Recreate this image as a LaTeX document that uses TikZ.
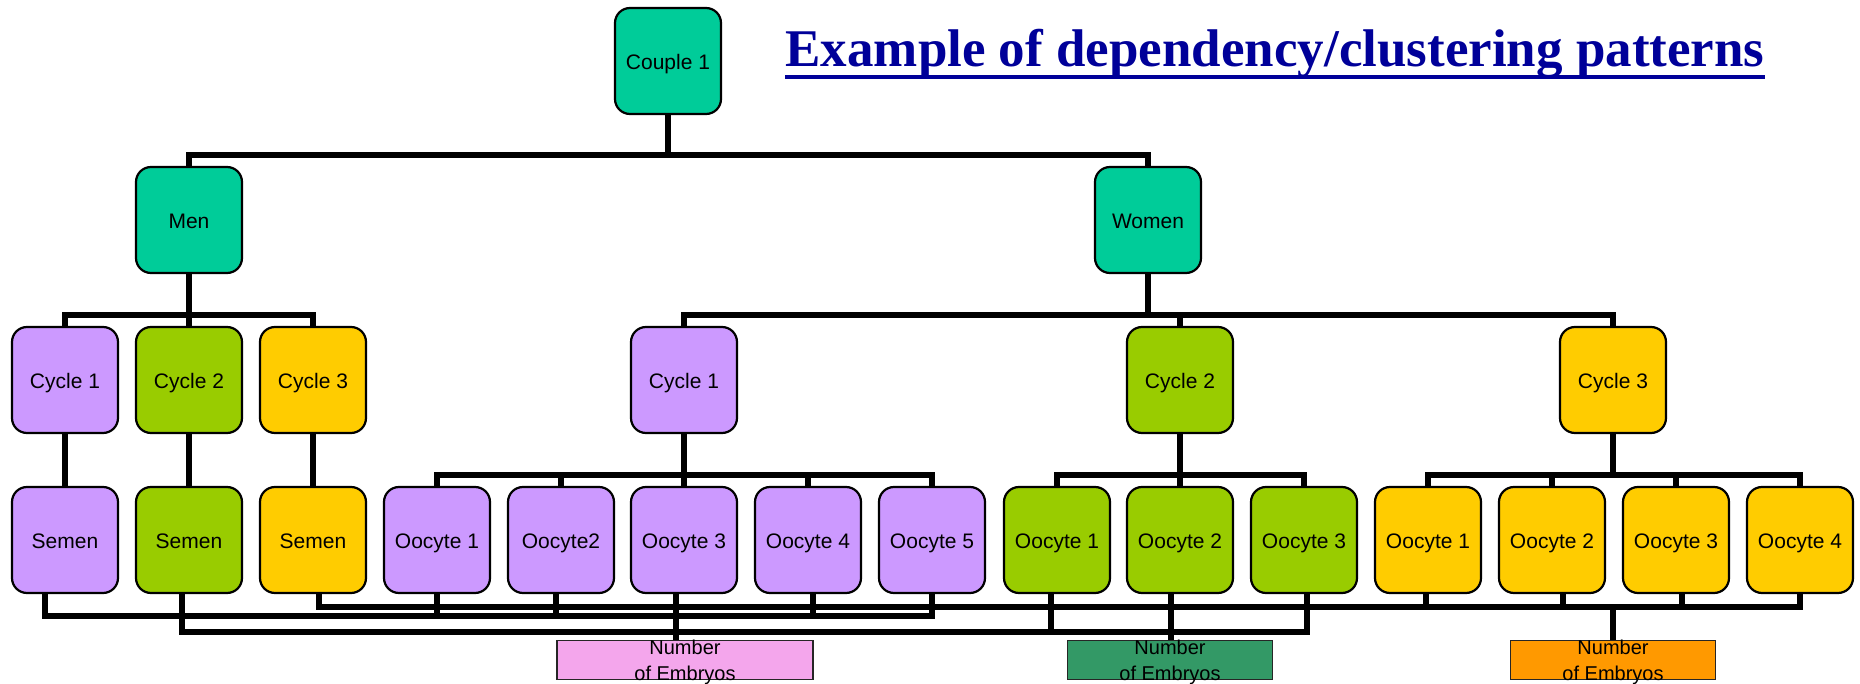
\documentclass[tikz,border=0pt]{standalone}
\usepackage{fontspec}
\setmainfont{Liberation Sans}
\newfontfamily\titlefont{Liberation Serif}
\usepackage{xcolor}
\usepackage{tikz}
\usetikzlibrary{calc}

\definecolor{couplegreen}{HTML}{00CC99}
\definecolor{cyclepurple}{HTML}{CC99FF}
\definecolor{cyclegreen}{HTML}{99CC00}
\definecolor{cycleyellow}{HTML}{FFCC00}
\definecolor{embpink}{HTML}{F4A6EC}
\definecolor{embgreen}{HTML}{339966}
\definecolor{emborange}{HTML}{FF9900}
\definecolor{titleblue}{HTML}{000099}

\newcommand{\embtext}{\raisebox{-3.75pt}[0pt][0pt]{\begin{tabular}{@{}c@{}}Number\\of Embryos\end{tabular}}}

\begin{document}
\begin{tikzpicture}[x=0.5pt,y=-0.5pt,
  box/.style={draw,line width=1.1pt,rounded corners=7.5pt,minimum width=53pt,minimum height=53pt,inner sep=0pt,text height=8.2pt,text depth=0pt,font=\fontsize{10.5}{12.5}\selectfont},
  numbox/.style={draw=black!85,line width=0.8pt,inner sep=0pt,minimum height=19.5pt,font=\fontsize{10}{12.5}\selectfont},
  bus/.style={line width=2.9pt}]
\useasboundingbox (0,0) rectangle (1860,684);

% Levels of the bus lines
\coordinate (lvA) at (0,155);
\coordinate (lvB) at (0,315);
\coordinate (lvC) at (0,475);
\coordinate (busY) at (0,607);
\coordinate (busP) at (0,616);
\coordinate (busG) at (0,632);

% Title
\node[anchor=base,inner sep=0pt,text=titleblue,font=\titlefont\bfseries\fontsize{26.5}{30}\selectfont] (title) at (1275,67) {Example of dependency/clustering patterns};
\draw[line width=2pt,titleblue] ($(title.base west)+(0,10)$) -- ($(title.base east)+(0,10)$);

% Couple, men and women
\node[box,fill=couplegreen] (couple) at (668,61) {Couple 1};
\node[box,fill=couplegreen] (men) at (189,220) {Men};
\node[box,fill=couplegreen] (women) at (1148,220) {Women};

% Cycles
\node[box,fill=cyclepurple] (mc1) at (65,380) {Cycle 1};
\node[box,fill=cyclegreen] (mc2) at (189,380) {Cycle 2};
\node[box,fill=cycleyellow] (mc3) at (313,380) {Cycle 3};
\node[box,fill=cyclepurple] (wc1) at (684,380) {Cycle 1};
\node[box,fill=cyclegreen] (wc2) at (1180,380) {Cycle 2};
\node[box,fill=cycleyellow] (wc3) at (1613,380) {Cycle 3};

% Semen and oocytes
\node[box,fill=cyclepurple] (ms1) at (65,540) {Semen};
\node[box,fill=cyclegreen] (ms2) at (189,540) {Semen};
\node[box,fill=cycleyellow] (ms3) at (313,540) {Semen};
\node[box,fill=cyclepurple] (p1) at (437,540) {Oocyte 1};
\node[box,fill=cyclepurple] (p2) at (561,540) {Oocyte2};
\node[box,fill=cyclepurple] (p3) at (684,540) {Oocyte 3};
\node[box,fill=cyclepurple] (p4) at (808,540) {Oocyte 4};
\node[box,fill=cyclepurple] (p5) at (932,540) {Oocyte 5};
\node[box,fill=cyclegreen] (g1) at (1057,540) {Oocyte 1};
\node[box,fill=cyclegreen] (g2) at (1180,540) {Oocyte 2};
\node[box,fill=cyclegreen] (g3) at (1304,540) {Oocyte 3};
\node[box,fill=cycleyellow] (y1) at (1428,540) {Oocyte 1};
\node[box,fill=cycleyellow] (y2) at (1552,540) {Oocyte 2};
\node[box,fill=cycleyellow] (y3) at (1676,540) {Oocyte 3};
\node[box,fill=cycleyellow] (y4) at (1800,540) {Oocyte 4};

% Number of embryos
\node[numbox,fill=embpink,minimum width=128pt] (np) at (685,660) {\embtext};
\node[numbox,fill=embgreen,minimum width=102.5pt] (ng) at (1170,660) {\embtext};
\node[numbox,fill=emborange,minimum width=102.5pt] (ny) at (1613,660) {\embtext};

% Tree from couple down to cycles
\draw[bus] (couple.south) -- (couple |- lvA);
\draw[bus] (men.north) |- (women.north |- lvA) -- (women.north);
\draw[bus] (men.south) -- (mc2.north);
\draw[bus] (mc1.north) |- (mc3.north |- lvB) -- (mc3.north);
\draw[bus] (women.south) -- (women |- lvB);
\draw[bus] (wc1.north) |- (wc3.north |- lvB) -- (wc3.north);
\draw[bus] (wc2.north) -- (wc2 |- lvB);

% Cycles down to samples
\draw[bus] (mc1.south) -- (ms1.north);
\draw[bus] (mc2.south) -- (ms2.north);
\draw[bus] (mc3.south) -- (ms3.north);
\draw[bus] (wc1.south) -- (p3.north);
\draw[bus] (p1.north) |- (p5.north |- lvC) -- (p5.north);
\draw[bus] (p2.north) -- (p2 |- lvC);
\draw[bus] (p4.north) -- (p4 |- lvC);
\draw[bus] (wc2.south) -- (g2.north);
\draw[bus] (g1.north) |- (g3.north |- lvC) -- (g3.north);
\draw[bus] (wc3.south) -- (wc3 |- lvC);
\draw[bus] (y1.north) |- (y4.north |- lvC) -- (y4.north);
\draw[bus] (y2.north) -- (y2 |- lvC);
\draw[bus] (y3.north) -- (y3 |- lvC);

% Yellow cluster
\draw[bus] ($(ms3.south)+(6,0)$) |- (y4.south |- busY) -- (y4.south);
\draw[bus] ($(y1.south)+(-2,0)$) -- ($(y1.south |- busY)+(-2,0)$);
\draw[bus] ($(y2.south)+(11,0)$) -- ($(y2.south |- busY)+(11,0)$);
\draw[bus] ($(y3.south)+(6,0)$) -- ($(y3.south |- busY)+(6,0)$);
\draw[bus] (ny.north) -- (ny.north |- busY);

% Purple cluster
\draw[bus] ($(ms1.south)+(-20,0)$) |- (p5.south |- busP) -- (p5.south);
\draw[bus] (p1.south) -- (p1.south |- busP);
\draw[bus] ($(p2.south)+(-5,0)$) -- ($(p2.south |- busP)+(-5,0)$);
\draw[bus] ($(p3.south)+(-8,0)$) -- ($(p3.south |- np.north)+(-8,0)$);
\draw[bus] ($(p4.south)+(5,0)$) -- ($(p4.south |- busP)+(5,0)$);

% Green cluster
\draw[bus] ($(ms2.south)+(-7,0)$) |- ($(g3.south |- busG)+(3,0)$) -- ($(g3.south)+(3,0)$);
\draw[bus] ($(g1.south)+(-6,0)$) -- ($(g1.south |- busG)+(-6,0)$);
\draw[bus] ($(g2.south)+(-9,0)$) -- ($(g2.south |- ng.north)+(-9,0)$);
\end{tikzpicture}
\end{document}
